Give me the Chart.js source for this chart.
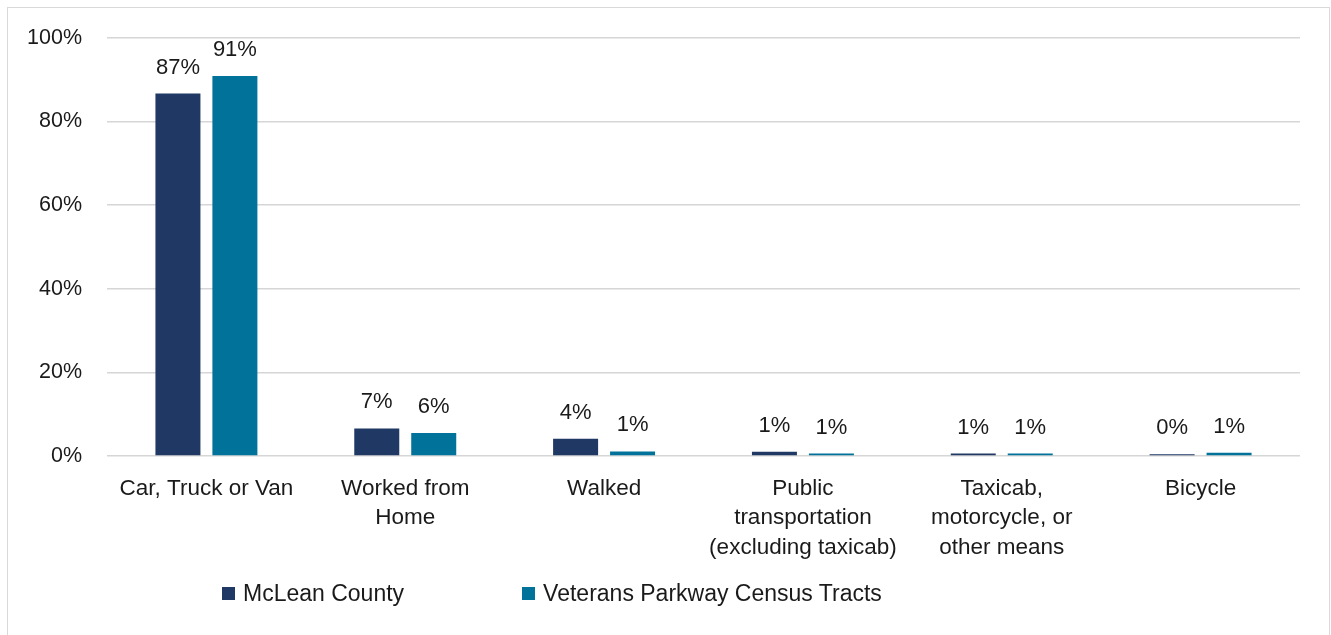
<!DOCTYPE html>
<html>
<head>
<meta charset="utf-8">
<script src="https://cdn.jsdelivr.net/npm/chart.js@4.4.1/dist/chart.umd.min.js"></script>
<style>
  html, body { margin: 0; padding: 0; background: #fff; overflow: hidden; }
  #frame {
    position: absolute; left: 7px; top: 7px; width: 1323px; height: 700px;
    border: 1px solid #d9d9d9; box-sizing: border-box;
  }
  #grafico { position: absolute; left: 0; top: 0; }
  #legenda {
    position: absolute; top: 580px; left: 222px; height: 26px;
    font-family: "Liberation Sans", Arial, sans-serif; font-size: 23px; color: #1a1a1a;
    display: flex; align-items: center;
  }
  .item { display: flex; align-items: center; }
  .caixa { width: 13px; height: 13px; margin-right: 8px; }
</style>
</head>
<body>
<div id="frame"></div>
<canvas id="grafico" width="1331" height="635"></canvas>
<div id="legenda"></div>
<script>
const ctx = document.getElementById('grafico').getContext('2d');

// Eixo X
const categorias = [
  'Car, Truck or Van',
  ['Worked from', 'Home'],
  'Walked',
  ['Public', 'transportation', '(excluding taxicab)'],
  ['Taxicab,', 'motorcycle, or', 'other means'],
  'Bicycle'
];

// Eixo Y (percent of workers)
const mclean = [86.7, 6.6, 4.1, 1.0, 0.6, 0.4];
const veterans = [90.9, 5.5, 1.1, 0.6, 0.6, 0.8];

const nomes = ['McLean County', 'Veterans Parkway Census Tracts'];
const cores = ['#203864', '#01739a'];

const yTicks = [0, 20, 40, 60, 80, 100];

const fonte = "'Liberation Sans', Arial, sans-serif";
const corTexto = '#1a1a1a';

// value labels above each bar
const rotulos = {
  id: 'rotulos',
  afterDatasetsDraw(chart) {
    const c = chart.ctx;
    c.save();
    c.font = '22px ' + fonte;
    c.fillStyle = corTexto;
    c.textAlign = 'center';
    c.textBaseline = 'middle';
    chart.data.datasets.forEach((ds, i) => {
      chart.getDatasetMeta(i).data.forEach((bar, j) => {
        c.fillText(Math.round(ds.data[j]) + '%', bar.x, bar.y - 26);
      });
    });
    c.restore();
  }
};

const data = {
  labels: categorias,
  datasets: [
    { label: nomes[0], data: mclean, backgroundColor: cores[0] },
    { label: nomes[1], data: veterans, backgroundColor: cores[1] }
  ]
};

const config = {
  type: 'bar',
  data,
  options: {
    responsive: false,
    animation: false,
    categoryPercentage: 0.573,
    barPercentage: 0.79,
    layout: { padding: { left: 0, top: 36, right: 31, bottom: 49 } },
    scales: {
      x: {
        grid: { display: false, drawTicks: false },
        border: { display: false },
        ticks: {
          color: corTexto, padding: 18, maxRotation: 0, autoSkip: false,
          font: { family: fonte, size: 22.5, lineHeight: 1.31 }
        },
        afterFit(scale) { scale.height = 130; }
      },
      y: {
        min: 0,
        max: 100,
        afterBuildTicks(scale) { scale.ticks = yTicks.map(v => ({ value: v })); },
        grid: { color: '#d6d6d6', lineWidth: 1.5, drawTicks: false },
        border: { display: false },
        ticks: {
          color: corTexto, padding: 25,
          font: { family: fonte, size: 21.5 },
          callback: v => v + '%'
        },
        afterFit(scale) { scale.width = 107; }
      }
    },
    plugins: {
      legend: false,
      tooltip: { enabled: false }
    }
  },
  plugins: [rotulos]
};

const grafico = new Chart(ctx, config);

// legenda
const legenda = document.getElementById('legenda');
nomes.forEach((nome, i) => {
  const item = document.createElement('div');
  item.className = 'item';
  if (i > 0) item.style.marginLeft = '118px';
  item.innerHTML = '<div class="caixa" style="background:' + cores[i] + '"></div><span>' + nome + '</span>';
  legenda.appendChild(item);
});
</script>
</body>
</html>
